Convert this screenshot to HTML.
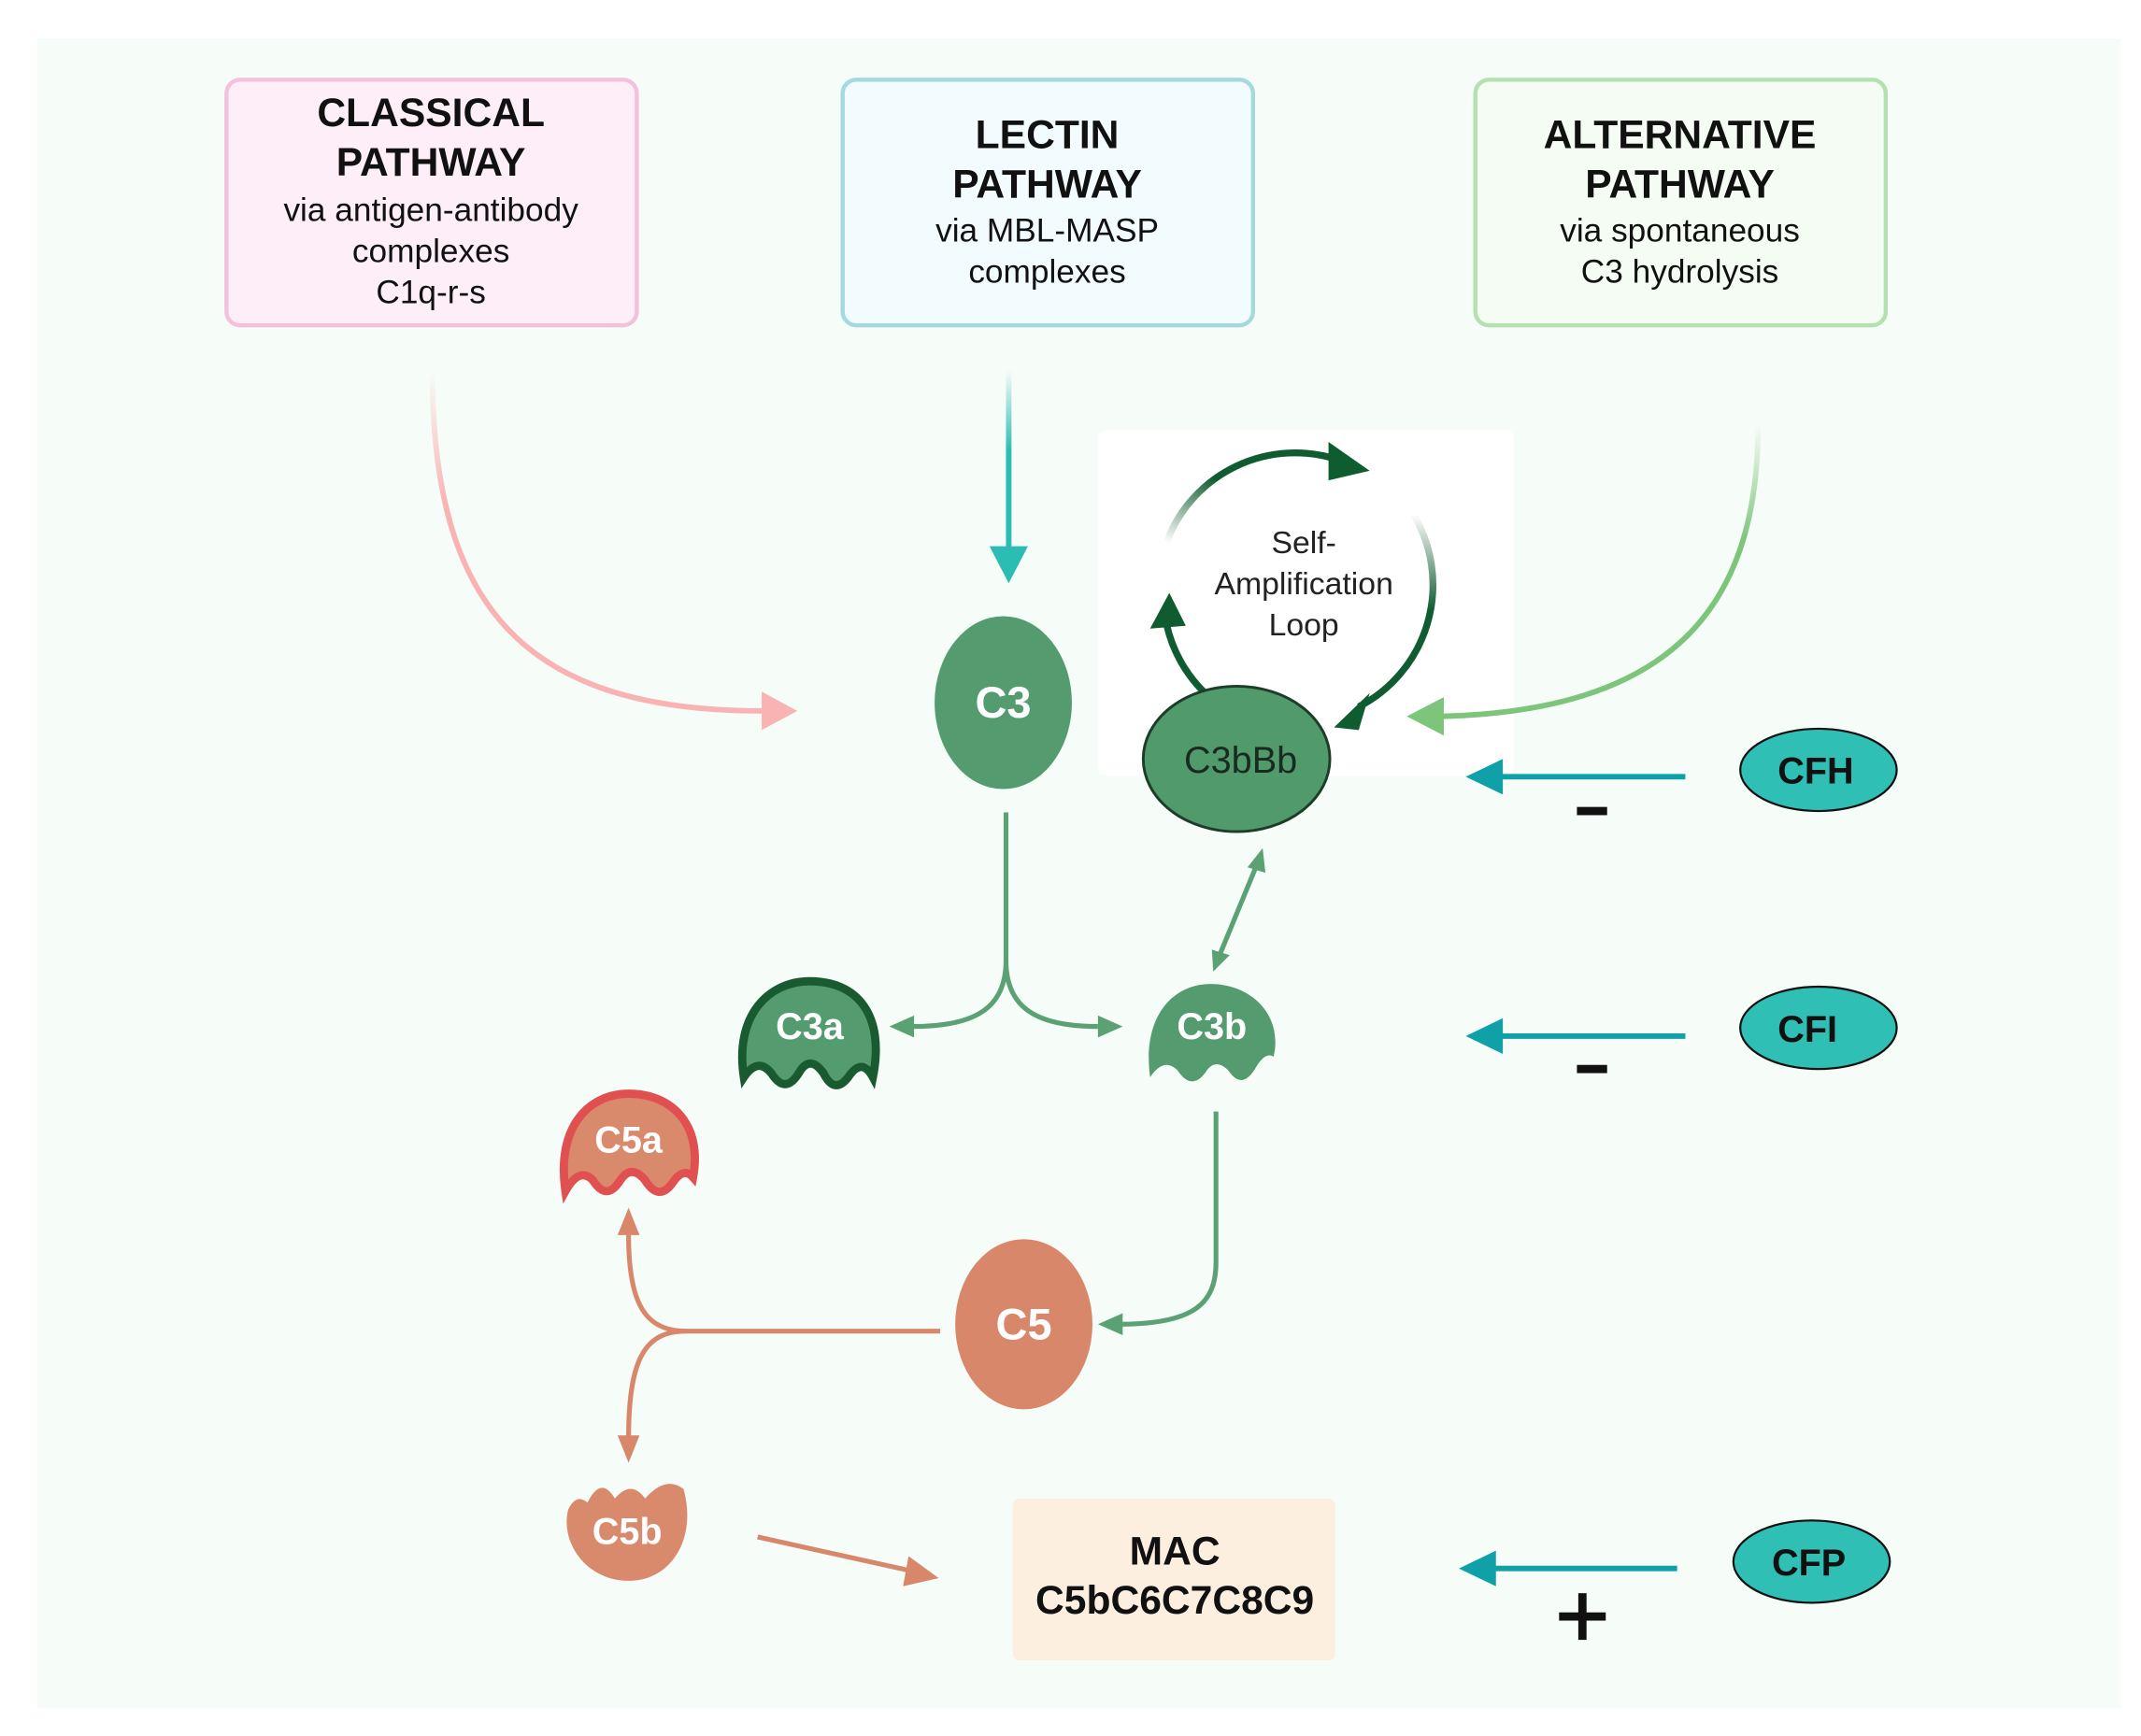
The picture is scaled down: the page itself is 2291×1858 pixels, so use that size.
<!DOCTYPE html>
<html><head><meta charset="utf-8"><style>
html,body{margin:0;padding:0;background:#fff;}
svg{display:block;}
text{font-family:"Liberation Sans",sans-serif;}
</style></head><body>
<svg width="2291" height="1858" viewBox="0 0 1560 1265" xmlns="http://www.w3.org/2000/svg">
<defs>
<linearGradient id="gp" x1="0" y1="0" x2="0" y2="1"><stop offset="0" stop-color="#f9b3b3" stop-opacity="0"/><stop offset="0.4" stop-color="#f9b3b3"/><stop offset="1" stop-color="#f9b3b3"/></linearGradient>
<linearGradient id="gl" x1="0" y1="0" x2="0" y2="1"><stop offset="0" stop-color="#2bbdb4" stop-opacity="0"/><stop offset="0.45" stop-color="#2bbdb4"/><stop offset="1" stop-color="#2bbdb4"/></linearGradient>
<linearGradient id="ga" x1="0" y1="0" x2="0" y2="1"><stop offset="0" stop-color="#7cc57a" stop-opacity="0"/><stop offset="0.4" stop-color="#7cc57a"/><stop offset="1" stop-color="#7cc57a"/></linearGradient>
<linearGradient id="gloop1" x1="0" y1="1" x2="1" y2="0"><stop offset="0" stop-color="#0e5c2f" stop-opacity="0"/><stop offset="0.5" stop-color="#0e5c2f"/></linearGradient>
<linearGradient id="gloop2" x1="0" y1="0" x2="0" y2="1"><stop offset="0" stop-color="#0e5c2f" stop-opacity="0"/><stop offset="0.5" stop-color="#0e5c2f"/></linearGradient>
</defs>
<rect x="27" y="28" width="1518" height="1217" fill="#f6fcf8"/>
<rect x="800" y="313" width="303" height="252" rx="6" fill="#ffffff"/>

<!-- boxes -->
<rect x="165" y="58" width="299" height="179" rx="10" fill="#fdeef8" stroke="#f4c1dd" stroke-width="3"/>
<g text-anchor="middle" fill="#111">
<text x="314" y="92" font-size="29" font-weight="bold">CLASSICAL</text>
<text x="314" y="128" font-size="29" font-weight="bold">PATHWAY</text>
<text x="314" y="161" font-size="24">via antigen-antibody</text>
<text x="314" y="191" font-size="24">complexes</text>
<text x="314" y="221" font-size="24">C1q-r-s</text>
</g>
<rect x="614" y="58" width="299" height="179" rx="10" fill="#f2fbfd" stroke="#a6d8e0" stroke-width="3"/>
<g text-anchor="middle" fill="#111">
<text x="763" y="108" font-size="29" font-weight="bold">LECTIN</text>
<text x="763" y="144" font-size="29" font-weight="bold">PATHWAY</text>
<text x="763" y="176" font-size="24">via MBL-MASP</text>
<text x="763" y="206" font-size="24">complexes</text>
</g>
<rect x="1075" y="58" width="299" height="179" rx="10" fill="#f4fcf3" stroke="#b5e0b0" stroke-width="3"/>
<g text-anchor="middle" fill="#111">
<text x="1224" y="108" font-size="29" font-weight="bold">ALTERNATIVE</text>
<text x="1224" y="144" font-size="29" font-weight="bold">PATHWAY</text>
<text x="1224" y="176" font-size="24">via spontaneous</text>
<text x="1224" y="206" font-size="24">C3 hydrolysis</text>
</g>

<!-- pathway arrows -->
<path d="M315 270 C315 440 380 518 555 518" fill="none" stroke="url(#gp)" stroke-width="4"/>
<polygon points="555,504 581,518 555,532" fill="#f9b3b3"/>
<rect x="733" y="270" width="4" height="130" fill="url(#gl)"/>
<polygon points="721,398 749,398 735,425" fill="#2bbdb4"/>
<path d="M1281 310 C1281 450 1210 518 1050 522" fill="none" stroke="url(#ga)" stroke-width="4"/>
<polygon points="1052,508 1025,522 1052,536" fill="#7cc57a"/>

<!-- loop -->
<path d="M850 395 A100 100 0 0 1 975 335" fill="none" stroke="url(#gloop1)" stroke-width="5"/>
<polygon points="968,322 998,343 968,350" fill="#0e5c2f"/>
<path d="M1030 375 A100 100 0 0 1 990 515" fill="none" stroke="url(#gloop2)" stroke-width="5"/>
<polygon points="998,505 972,530 990,532" fill="#0e5c2f"/>
<path d="M878 505 A100 100 0 0 1 850 455" fill="none" stroke="#0e5c2f" stroke-width="5"/>
<polygon points="838,458 852,432 864,456" fill="#0e5c2f"/>
<g text-anchor="middle" fill="#222" font-size="23">
<text x="950" y="403">Self-</text>
<text x="950" y="433">Amplification</text>
<text x="950" y="463">Loop</text>
</g>

<!-- C3 -->
<ellipse cx="731" cy="512" rx="50" ry="63" fill="#549c70"/>
<text x="731" y="523" text-anchor="middle" fill="#fff" font-size="32" font-weight="bold">C3</text>
<ellipse cx="901" cy="553" rx="68" ry="53" fill="#509a6c" stroke="#1d3d28" stroke-width="2"/>
<text x="904" y="563" text-anchor="middle" fill="#1a2a1e" font-size="27">C3bBb</text>

<!-- C3 split -->
<g fill="none" stroke="#5aa174" stroke-width="3.5">
<path d="M733 592 L733 700 C733 735 710 748 665 748"/>
<path d="M733 700 C733 735 756 748 800 748"/>
<path d="M886 810 L886 920 C886 950 870 965 815 965"/>
<path d="M887 700 L915 632"/>
</g>
<polygon points="666,740 648,748 666,756" fill="#5aa174"/>
<polygon points="800,740 818,748 800,756" fill="#5aa174"/>
<polygon points="818,957 800,965 818,973" fill="#5aa174"/>
<polygon points="909,632 920,618 922,636" fill="#5aa174"/>
<polygon points="883,692 884,708 896,696" fill="#5aa174"/>

<!-- C3a -->
<path d="M542 785 C535 740 560 715 590 715 C625 715 645 740 636 785 Q628 770 618 785 Q608 798 600 782 Q590 768 582 782 Q572 798 562 782 Q552 770 542 785 Z" fill="#549c70" stroke="#1a5a30" stroke-width="6"/>
<text x="590" y="757" text-anchor="middle" fill="#fff" font-size="27" font-weight="bold">C3a</text>
<!-- C3b -->
<path d="M838 785 C832 740 855 717 882 717 C912 717 935 740 928 770 Q922 766 915 778 Q905 795 895 780 Q885 770 878 782 Q868 795 858 780 Q848 770 838 785 Z" fill="#549c70"/>
<text x="883" y="757" text-anchor="middle" fill="#fff" font-size="27" font-weight="bold">C3b</text>

<!-- C5 -->
<ellipse cx="746" cy="965" rx="50" ry="62" fill="#d9876a"/>
<text x="746" y="976" text-anchor="middle" fill="#fff" font-size="32" font-weight="bold">C5</text>
<g fill="none" stroke="#d9876a" stroke-width="3.5">
<path d="M685 970 L500 970 C470 970 458 950 458 900"/>
<path d="M500 970 C470 970 458 990 458 1048"/>
<path d="M552 1120 L665 1145"/>
</g>
<polygon points="450,900 458,880 466,900" fill="#d9876a"/>
<polygon points="450,1046 458,1066 466,1046" fill="#d9876a"/>
<polygon points="662,1134 684,1150 658,1156" fill="#d9876a"/>

<!-- C5a -->
<path d="M412 868 C405 820 430 797 458 797 C490 797 512 820 505 858 Q498 850 490 862 Q480 876 470 860 Q460 848 452 860 Q442 876 432 860 Q422 850 412 868 Z" fill="#d9896c" stroke="#e05050" stroke-width="6"/>
<text x="458" y="840" text-anchor="middle" fill="#fff" font-size="27" font-weight="bold">C5a</text>
<!-- C5b -->
<path d="M414 1100 Q420 1088 428 1095 Q438 1075 448 1092 Q460 1078 470 1092 Q485 1075 498 1085 C508 1120 490 1152 458 1152 C428 1152 408 1125 414 1100 Z" fill="#d98a6d"/>
<text x="457" y="1125" text-anchor="middle" fill="#fff" font-size="27" font-weight="bold">C5b</text>

<!-- MAC -->
<rect x="738" y="1092" width="235" height="118" rx="5" fill="#fdefe0"/>
<text x="856" y="1140" text-anchor="middle" fill="#111" font-size="29" font-weight="bold">MAC</text>
<text x="856" y="1176" text-anchor="middle" fill="#111" font-size="29" font-weight="bold">C5bC6C7C8C9</text>

<!-- regulators -->
<g fill="none" stroke="#10a0a8" stroke-width="4">
<path d="M1228 566 L1090 566"/>
<path d="M1228 755 L1090 755"/>
<path d="M1222 1143 L1085 1143"/>
</g>
<g fill="#10a0a8">
<polygon points="1095,553 1068,566 1095,579"/>
<polygon points="1095,742 1068,755 1095,768"/>
<polygon points="1090,1130 1063,1143 1090,1156"/>
</g>
<rect x="1149" y="588" width="22" height="6" fill="#111"/>
<rect x="1149" y="776" width="22" height="6" fill="#111"/>
<rect x="1136" y="1175" width="34" height="6" fill="#111"/>
<rect x="1150" y="1161" width="6" height="34" fill="#111"/>
<g stroke="#111" stroke-width="1.5" fill="#2fbfb4">
<ellipse cx="1325" cy="561" rx="57" ry="30"/>
<ellipse cx="1325" cy="749" rx="57" ry="30"/>
<ellipse cx="1320" cy="1138" rx="57" ry="30"/>
</g>
<g text-anchor="middle" fill="#111" font-size="27" font-weight="bold">
<text x="1323" y="571">CFH</text>
<text x="1317" y="759">CFI</text>
<text x="1318" y="1148">CFP</text>
</g>
</svg>
</body></html>
